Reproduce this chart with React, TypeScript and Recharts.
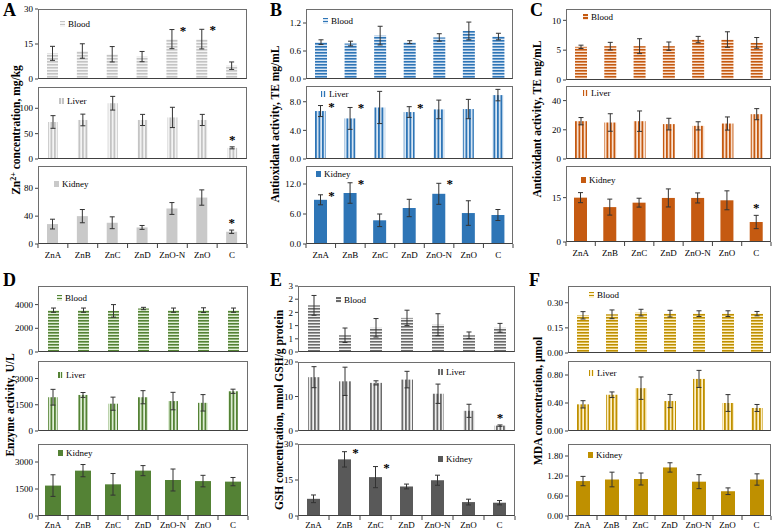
import React from 'react';
import { BarChart, Bar, XAxis, YAxis, ErrorBar, LabelList } from 'recharts';

const SERIF = '"Liberation Serif", "Times New Roman", Times, serif';

const categories = ['ZnA', 'ZnB', 'ZnC', 'ZnD', 'ZnO-N', 'ZnO', 'C'];

// A - Zn2+ concentration, mg/kg
const aBlood = [11.0, 12.0, 10.6, 9.6, 17.1, 17.1, 5.7];
const aBloodErr = [3.0, 3.1, 3.3, 2.2, 4.1, 4.2, 1.6];
const aBloodSig = ['', '', '', '', '*', '*', ''];
const aLiver = [73, 77, 110, 77, 82, 77, 22];
const aLiverErr = [12.5, 11.5, 13.5, 11, 20, 11, 2];
const aLiverSig = ['', '', '', '', '', '', '*'];
const aKidney = [28.6, 40, 30.5, 23.8, 51, 66.7, 17.6];
const aKidneyErr = [7, 9.5, 8.5, 2.8, 8.5, 11, 2.4];
const aKidneySig = ['', '', '', '', '', '', '*'];

// B - antioxidant activity, TE mg/mL
const bBlood = [0.79, 0.76, 0.93, 0.79, 0.89, 1.03, 0.91];
const bBloodErr = [0.05, 0.05, 0.2, 0.03, 0.08, 0.19, 0.07];
const bLiver = [6.7, 5.67, 7.2, 6.56, 6.93, 6.98, 8.93];
const bLiverErr = [0.77, 1.53, 2.25, 0.75, 1.3, 1.35, 0.8];
const bLiverSig = ['*', '*', '', '*', '', '', ''];
const bKidney = [8.84, 10.2, 4.74, 7.2, 10.04, 6.19, 5.8];
const bKidneyErr = [1.0, 2.05, 1.26, 1.74, 2.1, 2.46, 1.1];
const bKidneySig = ['*', '*', '', '', '*', '', ''];

// C - antioxidant activity, TE mg/mL
const cBlood = [5.56, 5.67, 5.67, 5.67, 6.78, 6.78, 6.22];
const cBloodErr = [0.28, 0.64, 1.25, 0.7, 0.53, 1.3, 0.9];
const cLiver = [25.9, 25, 25.9, 23.9, 22.7, 24.3, 30.7];
const cLiverErr = [2.5, 6, 7, 4, 2.8, 4.5, 3.8];
const cKidney = [15, 11.8, 13.3, 14.9, 14.9, 14.1, 6.76];
const cKidneyErr = [1.7, 2.7, 1.5, 3.05, 1.7, 3.2, 2.25];
const cKidneySig = ['', '', '', '', '', '', '*'];

// D - enzyme activity, U/L
const dBlood = [3530, 3530, 3470, 3670, 3530, 3530, 3530];
const dBloodErr = [180, 180, 530, 100, 180, 200, 180];
const dLiver = [1930, 2060, 1560, 1930, 1710, 1610, 2270];
const dLiverErr = [450, 140, 375, 375, 500, 470, 120];
const dKidney = [1690, 2520, 1760, 2520, 2000, 1940, 1910];
const dKidneyErr = [600, 340, 600, 280, 610, 320, 230];

// E - GSH concentration
const eBlood = [2.12, 0.76, 1.1, 1.55, 1.24, 0.76, 1.1];
const eBloodErr = [0.45, 0.33, 0.42, 0.35, 0.5, 0.15, 0.2];
const eLiver = [15.6, 14.4, 13.95, 14.9, 10.8, 5.85, 1.56];
const eLiverErr = [3.05, 4.1, 0.6, 2.4, 2.8, 1.9, 0.2];
const eLiverSig = ['', '', '', '', '', '', '*'];
const eKidney = [7.16, 23.6, 16.2, 12.3, 14.9, 5.8, 5.54];
const eKidneyErr = [1.6, 3.2, 4.4, 1.0, 2.1, 1.2, 0.9];
const eKidneySig = ['', '*', '*', '', '', '', ''];

// F - MDA concentration
const fBlood = [0.225, 0.231, 0.241, 0.235, 0.235, 0.235, 0.235];
const fBloodErr = [0.022, 0.026, 0.02, 0.02, 0.017, 0.017, 0.013];
const fLiver = [0.381, 0.518, 0.612, 0.428, 0.744, 0.4, 0.329];
const fLiverErr = [0.052, 0.04, 0.16, 0.094, 0.122, 0.12, 0.05];
const fKidney = [1.048, 1.095, 1.11, 1.457, 1.03, 0.743, 1.095];
const fKidneyErr = [0.14, 0.22, 0.18, 0.14, 0.21, 0.1, 0.17];

const YW = 40;
const MT = 8;
const MB = 7;

type Kind = 'h' | 'v' | 's';

interface SubProps {
  id: string;
  label: string;
  values: number[];
  errors: number[];
  sig?: string[];
  sigSide?: 'r' | 't';
  box: number[];
  max: number;
  ticks: number[];
  dec: number;
  kind: Kind;
  color: string;
  tint: string;
  lg: number[];
  barSize: number;
  showX?: boolean;
  labelDy?: number;
}

const swatch = (kind: Kind, color: string, tint: string) => {
  if (kind === 'h') return `repeating-linear-gradient(to bottom, ${color} 0 1.5px, ${tint} 1.5px 3px)`;
  if (kind === 'v') return `repeating-linear-gradient(to right, ${color} 0 1.5px, ${tint} 1.5px 3px)`;
  return color;
};

function Sub(p: SubProps) {
  const [left, top, w, h] = p.box;
  const rows = categories.map((name, i) => ({
    name,
    value: p.values[i],
    err: p.errors[i],
    sig: p.sig ? p.sig[i] : '',
    idx: String(i),
  }));
  const pid = 'pat-' + p.id;
  const band = w / categories.length;
  const xH = p.showX ? 24 : 0;
  const mb = p.showX ? 0 : MB;
  const fill = p.kind === 's' ? p.color : `url(#${pid})`;
  const labelDy = p.labelDy ?? 14;

  const sigLabel = (lp: any) => {
    const r = rows[Number(lp.value)];
    if (!r || !r.sig) return null;
    const vb = lp.viewBox || lp;
    const errTop = vb.y - (vb.height * r.err) / r.value;
    const cx = vb.x + vb.width / 2;
    const right = p.sigSide === 'r';
    return (
      <text x={right ? cx + 11 : cx} y={right ? errTop + 5 : errTop - 3} textAnchor="middle"
        fontSize={13} fontWeight="bold" fontFamily={SERIF} fill="#000" style={{ fill: '#000' }}>{r.sig}</text>
    );
  };

  const catTick = (tp: any) => {
    const { x, y, payload, index } = tp;
    return (
      <g>
        <line x1={x - band / 2} x2={x - band / 2} y1={y} y2={y + 4} stroke="#404040" />
        {index === categories.length - 1 && (
          <line x1={x + band / 2} x2={x + band / 2} y1={y} y2={y + 4} stroke="#404040" />
        )}
        <text x={x} y={y + labelDy} textAnchor="middle" fontSize={9} fontFamily={SERIF} fill="#000">{payload.value}</text>
      </g>
    );
  };

  return (
    <div style={{ position: 'absolute', left: left - YW, top: top - MT }}>
      <BarChart width={YW + w + 4} height={MT + h + xH + mb} data={rows}
        margin={{ top: MT, right: 4, left: 0, bottom: mb }} style={{ overflow: 'visible' }}>
        <defs>
          {p.kind === 'h' && (
            <pattern id={pid} patternUnits="userSpaceOnUse" width={4} height={3}>
              <rect width={4} height={3} fill={p.tint} />
              <rect width={4} height={1.6} fill={p.color} />
            </pattern>
          )}
          {p.kind === 'v' && (
            <pattern id={pid} patternUnits="userSpaceOnUse" width={3.5} height={4}>
              <rect width={3.5} height={4} fill={p.tint} />
              <rect width={1.8} height={4} fill={p.color} />
            </pattern>
          )}
        </defs>
        {p.showX ? (
          <XAxis dataKey="name" height={xH} axisLine={false} tickLine={false} tickSize={0}
            tickMargin={0} interval={0} tick={catTick} />
        ) : (
          <XAxis dataKey="name" hide />
        )}
        <YAxis type="number" width={YW} domain={[0, p.max]} ticks={p.ticks} interval={0}
          allowDataOverflow axisLine={false} tickSize={3} tickLine={{ stroke: '#404040' }}
          tickFormatter={(v: number) => v.toFixed(p.dec)}
          tick={{ fontSize: 9, fill: '#000', fontFamily: SERIF }} />
        <Bar dataKey="value" fill={fill} barSize={p.barSize} isAnimationActive={false}>
          <ErrorBar dataKey="err" width={2.5} stroke="#333" strokeWidth={1} direction="y" />
          {p.sig && <LabelList dataKey="idx" content={sigLabel} />}
        </Bar>
      </BarChart>
      <div style={{
        position: 'absolute', left: YW, top: MT, width: w, height: h, boxSizing: 'border-box',
        border: '1px solid #6e6e6e', borderBottom: '1px solid #404040', pointerEvents: 'none',
      }} />
      <div style={{
        position: 'absolute', left: YW + p.lg[0], top: MT + p.lg[1] - 6, height: 12,
        display: 'flex', alignItems: 'center', fontSize: 9, fontFamily: SERIF, whiteSpace: 'nowrap',
      }}>
        <span style={{ display: 'inline-block', width: 5, height: 6, marginRight: 3, background: swatch(p.kind, p.color, p.tint) }} />
        {p.label}
      </div>
    </div>
  );
}

const grey = { color: '#c4c4c4', tint: '#f4f4f4' };
const blue = { color: '#2e75b6', tint: '#dbe8f5' };
const orange = { color: '#c55a11', tint: '#fbe5d6' };
const green = { color: '#548235', tint: '#e2f0d9' };
const dark = { color: '#6b6b6b', tint: '#f2f2f2' };
const gold = { color: '#bf9000', tint: '#fff2cc' };

const subs: SubProps[] = [
  // A
  { id: 'a1', label: 'Blood', values: aBlood, errors: aBloodErr, sig: aBloodSig, sigSide: 'r', box: [38, 9, 209, 70], max: 30, ticks: [0, 15, 30], dec: 0, kind: 'h', ...grey, lg: [22, 15], barSize: 11 },
  { id: 'a2', label: 'Liver', values: aLiver, errors: aLiverErr, sig: aLiverSig, sigSide: 't', box: [38, 87, 209, 72], max: 142, ticks: [0, 50, 100], dec: 0, kind: 'v', ...grey, lg: [21, 14], barSize: 10 },
  { id: 'a3', label: 'Kidney', values: aKidney, errors: aKidneyErr, sig: aKidneySig, sigSide: 't', box: [38, 166, 209, 78], max: 112, ticks: [0, 40, 80], dec: 0, kind: 's', color: '#c9c9c9', tint: '#c9c9c9', lg: [16, 18], barSize: 11, showX: true },
  // B
  { id: 'b1', label: 'Blood', values: bBlood, errors: bBloodErr, box: [306, 9, 207, 70], max: 1.5, ticks: [0, 0.6, 1.2], dec: 1, kind: 'h', ...blue, lg: [17, 12], barSize: 12 },
  { id: 'b2', label: 'Liver', values: bLiver, errors: bLiverErr, sig: bLiverSig, sigSide: 'r', box: [306, 86, 207, 73], max: 10.2, ticks: [0, 4, 8], dec: 1, kind: 'v', ...blue, lg: [15, 8], barSize: 11 },
  { id: 'b3', label: 'Kidney', values: bKidney, errors: bKidneyErr, sig: bKidneySig, sigSide: 'r', box: [306, 166, 207, 78], max: 15.6, ticks: [0, 6, 12], dec: 1, kind: 's', ...blue, lg: [10, 8], barSize: 13, showX: true },
  // C
  { id: 'c1', label: 'Blood', values: cBlood, errors: cBloodErr, box: [566, 9, 205, 71], max: 11.9, ticks: [0, 5, 10], dec: 0, kind: 'h', ...orange, lg: [17, 8], barSize: 12 },
  { id: 'c2', label: 'Liver', values: cLiver, errors: cLiverErr, box: [566, 86, 205, 73], max: 50, ticks: [0, 20, 40], dec: 0, kind: 'v', ...orange, lg: [17, 7], barSize: 12 },
  { id: 'c3', label: 'Kidney', values: cKidney, errors: cKidneyErr, sig: cKidneySig, sigSide: 't', box: [566, 166, 205, 76], max: 25.7, ticks: [0, 15], dec: 0, kind: 's', ...orange, lg: [15, 14], barSize: 13, showX: true },
  // D
  { id: 'd1', label: 'Blood', values: dBlood, errors: dBloodErr, box: [38, 286, 210, 66], max: 5570, ticks: [0, 2000, 4000], dec: 0, kind: 'h', ...green, lg: [19, 12], barSize: 11 },
  { id: 'd2', label: 'Liver', values: dLiver, errors: dLiverErr, box: [38, 361, 210, 70], max: 4000, ticks: [0, 1500, 3000], dec: 0, kind: 'v', ...green, lg: [20, 14], barSize: 10 },
  { id: 'd3', label: 'Kidney', values: dKidney, errors: dKidneyErr, box: [38, 444, 210, 72], max: 4000, ticks: [0, 1500, 3000], dec: 0, kind: 's', ...green, lg: [20, 9], barSize: 16, showX: true, labelDy: 12 },
  // E
  { id: 'e1', label: 'Blood', values: eBlood, errors: eBloodErr, box: [298, 286, 217, 66], max: 3, ticks: [0, 0.6, 1.2, 1.8, 2.4, 3], dec: 0, kind: 'h', ...dark, lg: [38, 14], barSize: 12 },
  { id: 'e2', label: 'Liver', values: eLiver, errors: eLiverErr, sig: eLiverSig, sigSide: 't', box: [298, 362, 217, 69], max: 20, ticks: [0, 10, 20], dec: 0, kind: 'v', ...dark, lg: [140, 10], barSize: 12 },
  { id: 'e3', label: 'Kidney', values: eKidney, errors: eKidneyErr, sig: eKidneySig, sigSide: 'r', box: [298, 444, 217, 72], max: 30, ticks: [0, 15, 30], dec: 0, kind: 's', color: '#595959', tint: '#595959', lg: [140, 15], barSize: 13, showX: true, labelDy: 12 },
  // F
  { id: 'f1', label: 'Blood', values: fBlood, errors: fBloodErr, box: [568, 286, 203, 67], max: 0.4, ticks: [0, 0.15, 0.3], dec: 2, kind: 'h', ...gold, lg: [21, 9], barSize: 12 },
  { id: 'f2', label: 'Liver', values: fLiver, errors: fLiverErr, box: [568, 361, 203, 70], max: 1.0, ticks: [0, 0.4, 0.8], dec: 2, kind: 'v', ...gold, lg: [21, 12], barSize: 12 },
  { id: 'f3', label: 'Kidney', values: fKidney, errors: fKidneyErr, box: [568, 444, 203, 72], max: 2.16, ticks: [0, 0.6, 1.2, 1.8], dec: 2, kind: 's', ...gold, lg: [20, 11], barSize: 14, showX: true, labelDy: 12 },
];

const letters = [
  { t: 'A', x: 3, y: 1 }, { t: 'B', x: 270, y: 1 }, { t: 'C', x: 530, y: 1 },
  { t: 'D', x: 3, y: 271 }, { t: 'E', x: 270, y: 271 }, { t: 'F', x: 529, y: 271 },
];

const titles: { x: number; y: number; t: React.ReactNode }[] = [
  { x: 15, y: 130, t: <>Zn<sup style={{ fontSize: 8 }}>2+</sup> concentration, mg/kg</> },
  { x: 275, y: 124, t: 'Antioxidant activity, TE mg/mL' },
  { x: 537, y: 119, t: 'Antioxidant activity, TE mg/mL' },
  { x: 10, y: 405, t: 'Enzyme activity, U/L' },
  { x: 279, y: 410, t: 'GSH concentration, nmol GSH/g protein' },
  { x: 538, y: 401, t: 'MDA concentration, µmol' },
];

export default function App() {
  return (
    <div style={{ position: 'absolute', left: 0, top: 0, width: 778, height: 530, background: '#fff', overflow: 'hidden', fontFamily: SERIF }}>
      {subs.map((s) => <Sub key={s.id} {...s} />)}
      {letters.map((l) => (
        <div key={l.t} style={{ position: 'absolute', left: l.x, top: l.y, fontSize: 18, lineHeight: '18px', fontWeight: 'bold' }}>{l.t}</div>
      ))}
      {titles.map((t, i) => (
        <div key={i} style={{
          position: 'absolute', left: t.x, top: t.y, whiteSpace: 'nowrap', fontSize: 11.5, fontWeight: 'bold',
          lineHeight: '13px', transform: 'translate(-50%, -50%) rotate(-90deg)',
        }}>{t.t}</div>
      ))}
    </div>
  );
}
